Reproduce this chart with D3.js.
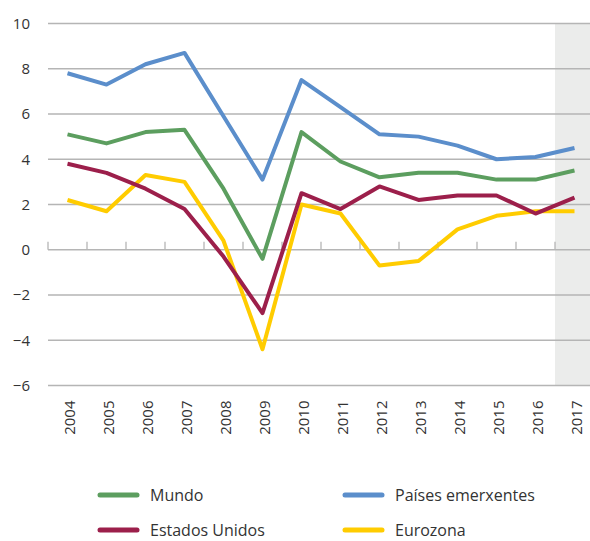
<!DOCTYPE html>
<html>
<head>
<meta charset="utf-8">
<script src="https://cdn.jsdelivr.net/npm/d3@7"></script>
<style>
  body { margin: 0; background: #fff; }
  text { font-family: "Open Sans", sans-serif; fill: #333; }
</style>
</head>
<body>
<div id="chart"></div>
<script>
var years = ["2004","2005","2006","2007","2008","2009","2010","2011","2012","2013","2014","2015","2016","2017"];
var mundo = [5.1, 4.7, 5.2, 5.3, 2.7, -0.4, 5.2, 3.9, 3.2, 3.4, 3.4, 3.1, 3.1, 3.5];
var emerxentes = [7.8, 7.3, 8.2, 8.7, 5.9, 3.1, 7.5, 6.3, 5.1, 5.0, 4.6, 4.0, 4.1, 4.5];
var estadosUnidos = [3.8, 3.4, 2.7, 1.8, -0.3, -2.8, 2.5, 1.8, 2.8, 2.2, 2.4, 2.4, 1.6, 2.3];
var eurozona = [2.2, 1.7, 3.3, 3.0, 0.4, -4.4, 2.0, 1.6, -0.7, -0.5, 0.9, 1.5, 1.7, 1.7];
var yTicks = [-6, -4, -2, 0, 2, 4, 6, 8, 10];
var shadedYears = ["2017"];

var series = [
  {name: "Mundo", values: mundo, color: "#5c9e5f"},
  {name: "Países emerxentes", values: emerxentes, color: "#5b8ecb"},
  {name: "Estados Unidos", values: estadosUnidos, color: "#9c1f4b"},
  {name: "Eurozona", values: eurozona, color: "#ffcc00"}
];

var width = 590, height = 541;
var margin = {top: 23.5, right: -4, bottom: 155.5, left: 48};
var w = width - margin.left - margin.right;
var h = height - margin.top - margin.bottom;

var svg = d3.select("#chart")
  .append("svg")
  .attr("width", width)
  .attr("height", height);

var g = svg.append("g")
  .attr("transform", "translate(" + margin.left + "," + margin.top + ")");

var x = d3.scaleBand().domain(years).range([0, w]);
var y = d3.scaleLinear().domain([-6, 10]).range([h, 0]);

// shaded forecast area
g.selectAll(".shade")
  .data(shadedYears)
  .enter()
  .append("rect")
  .attr("x", function(d) { return x(d); })
  .attr("y", y(10))
  .attr("width", x.bandwidth())
  .attr("height", y(-6) - y(10))
  .attr("fill", "#ebeceb");

// gridlines
g.selectAll(".grid")
  .data(yTicks)
  .enter()
  .append("line")
  .attr("x1", 0)
  .attr("x2", w)
  .attr("y1", function(d) { return y(d); })
  .attr("y2", function(d) { return y(d); })
  .attr("stroke", "#b5b5b5")
  .attr("stroke-width", 1.3);

// y axis labels
var yAxis = g.append("g")
  .call(d3.axisLeft(y).tickValues(yTicks).tickSize(0).tickPadding(18));
yAxis.select(".domain").remove();
yAxis.selectAll("text").style("font-size", "15px").attr("fill", "#333");

// category ticks on zero line
g.selectAll(".xtick")
  .data(years)
  .enter()
  .append("line")
  .attr("x1", function(d) { return x(d); })
  .attr("x2", function(d) { return x(d); })
  .attr("y1", y(0))
  .attr("y2", y(0) - 8)
  .attr("stroke", "#b5b5b5")
  .attr("stroke-width", 1.3);

// x labels
g.selectAll(".xlabel")
  .data(years)
  .enter()
  .append("text")
  .attr("transform", function(d) {
    return "translate(" + (x(d) + x.bandwidth() / 2 + 1) + "," + (h + 15) + ") rotate(-90)";
  })
  .attr("text-anchor", "end")
  .attr("dominant-baseline", "central")
  .style("font-size", "15px")
  .text(function(d) { return d; });

// lines
var line = d3.line()
  .x(function(d, i) { return x(years[i]) + x.bandwidth() / 2; })
  .y(function(d) { return y(d); });

var drawOrder = [series[1], series[0], series[3], series[2]];
g.selectAll(".series")
  .data(drawOrder)
  .enter()
  .append("path")
  .attr("d", function(d) { return line(d.values); })
  .attr("fill", "none")
  .attr("stroke", function(d) { return d.color; })
  .attr("stroke-width", 4)
  .attr("stroke-linejoin", "round");

// legend
var legendPos = [[100, 495], [345, 495], [100, 530], [345, 530]];
var legend = svg.selectAll(".legend")
  .data(series)
  .enter()
  .append("g")
  .attr("transform", function(d, i) { return "translate(" + legendPos[i][0] + "," + legendPos[i][1] + ")"; });

legend.append("line")
  .attr("x1", 0)
  .attr("x2", 37)
  .attr("stroke", function(d) { return d.color; })
  .attr("stroke-width", 5)
  .attr("stroke-linecap", "round");

legend.append("text")
  .attr("x", 50)
  .attr("dominant-baseline", "central")
  .style("font-size", "16px")
  .text(function(d) { return d.name; });
</script>
</body>
</html>
